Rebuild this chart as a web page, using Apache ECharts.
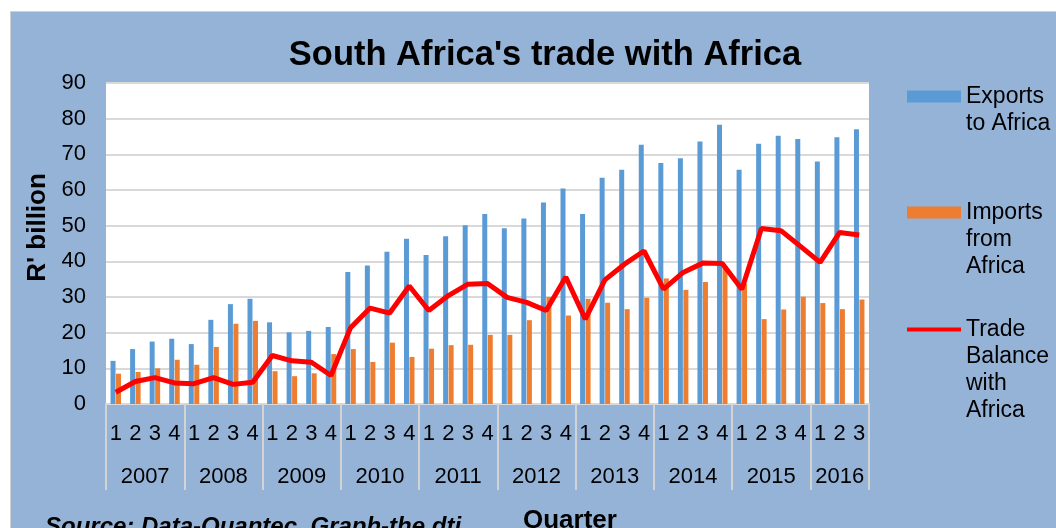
<!DOCTYPE html>
<html>
<head>
<meta charset="utf-8">
<script src="https://cdn.jsdelivr.net/npm/echarts@6/dist/echarts.min.js"></script>
<style>
  html, body { margin: 0; padding: 0; background: #fff; }
  #chart { width: 1056px; height: 528px; }
</style>
</head>
<body>
<div id="chart"></div>
<script>
// quarters 2007 Q1 .. 2016 Q3
const quarters = [
  '1', '2', '3', '4', '1', '2', '3', '4', '1', '2', '3', '4', '1', '2', '3', '4',
  '1', '2', '3', '4', '1', '2', '3', '4', '1', '2', '3', '4', '1', '2', '3', '4',
  '1', '2', '3', '4', '1', '2', '3'
]
const years = ['2007', '2008', '2009', '2010', '2011', '2012', '2013', '2014', '2015', '2016']
const quartersPerYear = [4, 4, 4, 4, 4, 4, 4, 4, 4, 3]

const exportsData = [
  12.1, 15.4, 17.5, 18.3, 16.8, 23.6, 28.0, 29.5, 22.9, 20.1, 20.5, 21.6,
  37.0, 38.8, 42.7, 46.3, 41.8, 47.0, 50.1, 53.3, 49.3, 52.0, 56.5, 60.4,
  53.3, 63.4, 65.7, 72.7, 67.6, 68.9, 73.6, 78.3, 65.7, 73.0, 75.2, 74.3,
  68.0, 74.8, 77.0
]
const importsData = [
  8.5, 9.0, 10.0, 12.4, 11.0, 16.0, 22.5, 23.3, 9.2, 7.8, 8.6, 14.0,
  15.4, 11.8, 17.2, 13.2, 15.5, 16.5, 16.6, 19.4, 19.4, 23.5, 30.0, 24.8,
  29.5, 28.4, 26.6, 29.8, 35.2, 32.0, 34.2, 38.6, 33.7, 23.8, 26.5, 30.1,
  28.3, 26.6, 29.3
]
const balanceData = [
  3.3, 6.3, 7.4, 5.9, 5.7, 7.4, 5.5, 6.1, 13.6, 12.1, 11.7, 8.0,
  21.4, 26.9, 25.5, 33.1, 26.2, 30.4, 33.6, 33.8, 29.9, 28.5, 26.2, 35.6,
  23.8, 34.8, 39.2, 42.9, 32.2, 36.9, 39.5, 39.4, 32.2, 49.2, 48.6, 44.2,
  39.7, 48.1, 47.4
]

// year boundaries and centres on a 0..39 value scale
const yearEdges = [0]
const yearCenters = []
quartersPerYear.forEach(n => {
  const start = yearEdges[yearEdges.length - 1]
  yearCenters.push(start + n / 2)
  yearEdges.push(start + n)
})

const FONT = "'Liberation Sans', Arial, sans-serif"
const chart = echarts.init(document.getElementById('chart'), null, { renderer: 'canvas' })

const legendLines = {
  'Exports to Africa': ['Exports', 'to Africa'],
  'Imports from Africa': ['Imports', 'from', 'Africa'],
  'Trade Balance with Africa': ['Trade', 'Balance', 'with', 'Africa'],
}
const LH = 27
// blank lines on top so the icon sits level with the first text line
function legendFor(name, top, iconHeight) {
  const lines = legendLines[name]
  const pad = lines.slice(1).map(() => ' ')
  return {
    data: [name],
    orient: 'vertical',
    left: 907,
    top: top,
    padding: 0,
    itemWidth: 54,
    itemHeight: iconHeight,
    icon: 'rect',
    formatter: () => pad.concat(lines).join('\n'),
    textStyle: { fontFamily: FONT, fontSize: 23, color: '#000', lineHeight: LH },
    selectedMode: false,
  }
}

const option = {
  backgroundColor: '#fff',
  animation: false,
  graphic: [{
    type: 'rect',
    z: -10,
    shape: { x: 10.5, y: 11.5, width: 1060, height: 530 },
    style: { fill: '#95b3d7', stroke: '#d0d0d0', lineWidth: 1 },
  }],
  title: [
    {
      text: "South Africa's trade with Africa",
      left: 540, top: 33, textAlign: 'center',
      textStyle: { fontFamily: FONT, fontSize: 34.5, fontWeight: 'bold', color: '#000' },
    },
    {
      text: 'Quarter',
      left: 518, top: 503,
      textStyle: { fontFamily: FONT, fontSize: 26, fontWeight: 'bold', color: '#000' },
    },
    {
      text: 'Source: Data-Quantec. Graph-the dti',
      left: 40, top: 510,
      textStyle: { fontFamily: FONT, fontSize: 24, fontWeight: 'bold', fontStyle: 'italic', color: '#000' },
    },
  ],
  legend: [
    legendFor('Exports to Africa', 56, 12),
    legendFor('Imports from Africa', 145, 12),
    legendFor('Trade Balance with Africa', 235, 4),
  ],
  grid: {
    left: 106, right: 187, top: 83, bottom: 124,
    show: true, backgroundColor: '#fff', borderWidth: 0,
    containLabel: false,
  },
  xAxis: [
    {
      type: 'category',
      data: quarters,
      position: 'bottom',
      axisLine: { lineStyle: { color: '#d9d9d9', width: 2 } },
      axisTick: { show: false },
      axisLabel: { interval: 0, color: '#000', fontFamily: FONT, fontSize: 22, margin: 19 },
    },
    {
      type: 'value',
      min: 0, max: quarters.length,
      position: 'bottom',
      offset: 0,
      axisLine: { show: false },
      splitLine: { show: false },
      axisTick: {
        show: true, length: 86, customValues: yearEdges,
        lineStyle: { color: '#d3d3d3', width: 2 },
      },
      axisLabel: {
        customValues: yearCenters,
        formatter: v => {
          const i = yearCenters.indexOf(v)
          return i >= 0 ? years[i] : ''
        },
        color: '#000', fontFamily: FONT, fontSize: 22, margin: 62,
      },
    },
  ],
  yAxis: {
    type: 'value',
    min: 0, max: 90, interval: 10,
    name: "R' billion",
    nameLocation: 'middle',
    nameRotate: 90,
    nameGap: 52,
    nameTextStyle: { fontFamily: FONT, fontSize: 26, fontWeight: 'bold', color: '#000', padding: [0, 0, 0, 32] },
    axisLine: { show: false },
    axisTick: { show: false },
    axisLabel: { color: '#000', fontFamily: FONT, fontSize: 22, margin: 20 },
    splitLine: { lineStyle: { color: '#d9d9d9', width: 2 } },
  },
  series: [
    {
      name: 'Exports to Africa',
      type: 'bar',
      data: exportsData,
      barWidth: 5,
      barGap: '10%',
      itemStyle: { color: '#5b9bd5' },
    },
    {
      name: 'Imports from Africa',
      type: 'bar',
      data: importsData,
      barWidth: 5,
      barGap: '10%',
      itemStyle: { color: '#ed7d31' },
    },
    {
      name: 'Trade Balance with Africa',
      type: 'line',
      data: balanceData,
      symbol: 'none',
      lineStyle: { color: '#ff0000', width: 5 },
      itemStyle: { color: '#ff0000' },
      z: 5,
    },
  ],
}

chart.setOption(option)
</script>
</body>
</html>
